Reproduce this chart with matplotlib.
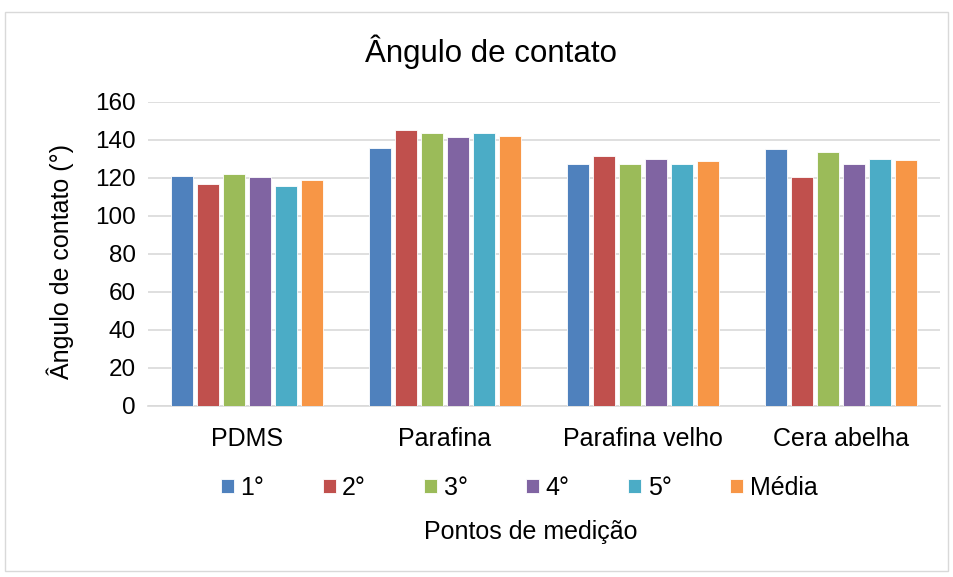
import numpy as np
import matplotlib
matplotlib.use("Agg")
import matplotlib.pyplot as plt
from matplotlib.patches import Rectangle

plt.rcParams['font.family'] = ['Liberation Sans', 'DejaVu Sans']

categories = ["PDMS", "Parafina", "Parafina velho", "Cera abelha"]
series_names = ["1°", "2°", "3°", "4°", "5°", "Média"]
m1 = [120.9, 135.8, 127.4, 135.3]
m2 = [116.8, 145.3, 131.6, 120.5]
m3 = [122.3, 143.7, 127.4, 133.9]
m4 = [120.4, 141.4, 130.2, 127.4]
m5 = [115.8, 143.7, 127.4, 130.2]
media = [119.1, 141.9, 128.9, 129.3]
series = [m1, m2, m3, m4, m5, media]
colors = ["#4F81BD", "#C0504D", "#9BBB59", "#8064A2", "#4BACC6", "#F79646"]
yticks = [0, 20, 40, 60, 80, 100, 120, 140, 160]

fs = 17.5
fig = plt.figure(figsize=(9.54, 5.77), dpi=100)
# chart area border
fig.patches.append(Rectangle((5 / 954, 6 / 577), 943 / 954, 559 / 577,
                             transform=fig.transFigure, fill=False,
                             edgecolor="#D9D9D9", linewidth=1.0))

ax = fig.add_axes([148 / 954, 1 - 406 / 577, 792 / 954, 304 / 577])
x = np.arange(len(categories))
step = 0.131
width = 0.108
for i, (vals, c, name) in enumerate(zip(series, colors, series_names)):
    ax.bar(x + (i - 2.5) * step, vals, width=width, color=c, label=name,
           edgecolor="white", linewidth=0.6, zorder=3)

ax.set_xlim(-0.5, len(categories) - 0.5)
ax.set_ylim(0, 160)
ax.set_yticks(yticks)
ax.set_xticks(x)
ax.set_xticklabels(categories, fontsize=fs + 0.5)
ax.tick_params(axis='y', labelsize=fs, length=0, pad=9)
ax.tick_params(axis='x', length=0, pad=15)
ax.grid(axis='y', color="#D9D9D9", linewidth=1.2, zorder=0)
for s in ["top", "right", "left"]:
    ax.spines[s].set_visible(False)
ax.spines["bottom"].set_color("#D9D9D9")
ax.spines["bottom"].set_linewidth(1.2)

fig.text(60 / 954, 1 - 262 / 577, "Ângulo de contato (°)", rotation=90,
         ha="center", va="center", fontsize=fs + 0.5)
fig.text(531 / 954, 1 - 532 / 577, "Pontos de medição", ha="center", va="center",
         fontsize=fs + 0.5)
fig.text(491 / 954, 1 - 52 / 577, "Ângulo de contato", ha="center", va="center",
         fontsize=22.5)

fig.legend(loc="center", bbox_to_anchor=(519 / 954, 1 - 488 / 577), ncol=6,
           frameon=False, fontsize=fs + 0.5, handlelength=0.52, handleheight=0.52,
           handletextpad=0.25, columnspacing=2.35)

fig.savefig("out.png", dpi=100, facecolor="white")
